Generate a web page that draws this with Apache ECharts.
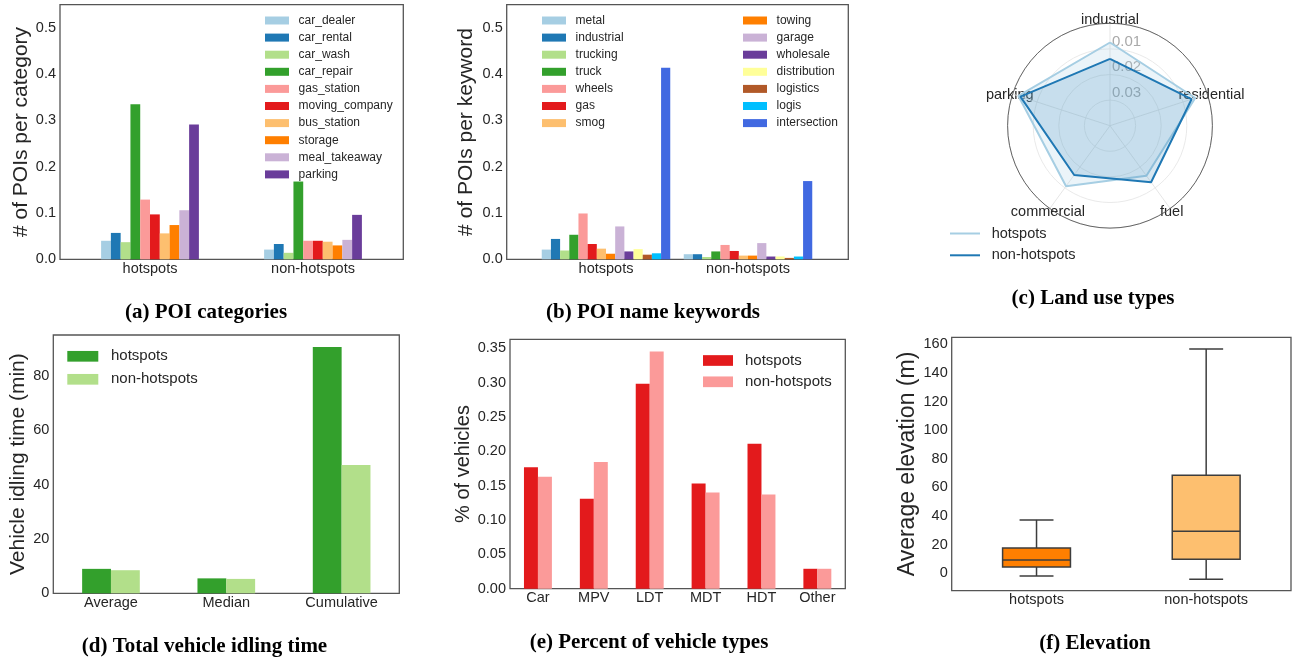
<!DOCTYPE html>
<html><head><meta charset="utf-8">
<script src="https://cdn.jsdelivr.net/npm/echarts@6/dist/echarts.min.js"></script>
<style>html,body{margin:0;padding:0;background:#fff}#c{width:1302px;height:658px}</style>
</head><body><div id="c"></div>
<script>
// ---------------- data ----------------
const groups = ['hotspots', 'non-hotspots'];

const poiCategories = ['car_dealer','car_rental','car_wash','car_repair','gas_station','moving_company','bus_station','storage','meal_takeaway','parking'];
const poiHotspots    = [0.040,0.057,0.037,0.335,0.129,0.097,0.056,0.074,0.106,0.291];
const poiNonHotspots = [0.021,0.033,0.014,0.168,0.040,0.040,0.038,0.030,0.042,0.096];
const poiTicks = [0.0,0.1,0.2,0.3,0.4,0.5];

const keywords = ['metal','industrial','trucking','truck','wheels','gas','smog','towing','garage','wholesale','distribution','logistics','logis','intersection'];
const kwHotspots    = [0.021,0.044,0.019,0.053,0.099,0.033,0.023,0.012,0.071,0.017,0.022,0.010,0.013,0.414];
const kwNonHotspots = [0.011,0.011,0.005,0.017,0.031,0.018,0.008,0.008,0.035,0.006,0.006,0.003,0.006,0.169];
const kwTicks = [0.0,0.1,0.2,0.3,0.4,0.5];

const landUse = ['industrial','residential','fuel','commercial','parking'];
const landHotspots    = [0.0075,0.0050,0.0158,0.0108,0.0024];
const landNonHotspots = [0.0139,0.0065,0.0127,0.0162,0.0032];
const landTicks = [0.01,0.02,0.03];

const idleCats = ['Average','Median','Cumulative'];
const idleHotspots    = [9.0,5.5,90.7];
const idleNonHotspots = [8.5,5.3,47.2];
const idleTicks = [0,20,40,60,80];

const vehicleTypes = ['Car','MPV','LDT','MDT','HDT','Other'];
const vehHotspots    = [0.177,0.131,0.2985,0.153,0.211,0.029];
const vehNonHotspots = [0.163,0.1845,0.3455,0.140,0.137,0.029];
const vehTicks = [0.00,0.05,0.10,0.15,0.20,0.25,0.30,0.35];

// boxplot: [low whisker, Q1, median, Q3, high whisker]
const elevHotspots    = [-1.9,4.4,9.3,17.7,37.3];
const elevNonHotspots = [-4.2,9.8,29.3,68.5,156.7];
const elevTicks = [0,20,40,60,80,100,120,140,160];

// ---------------- styling ----------------
const paired = ['#a6cee3','#1f78b4','#b2df8a','#33a02c','#fb9a99','#e31a1c','#fdbf6f','#ff7f00','#cab2d6','#6a3d9a','#ffff99','#b15928','#00bfff','#4169e1'];
const TXT = '#262626', FRAME = '#555555', SANS = 'Liberation Sans';
const elevColors = ['#ff7f00','#fdbf6f'];

const chart = echarts.init(document.getElementById('c'), null, {renderer:'canvas'});

function frameGrid(l,t,w,h,show){return {left:l,top:t,width:w,height:h,show:show,borderColor:FRAME,borderWidth:1.3,backgroundColor:'transparent'};}
const hiddenAxis = (g)=>({gridIndex:g,type:'value',show:false,min:0,max:1});
const tickLbl = {color:TXT,fontSize:14.5,fontFamily:SANS};
function catX(g,data,extra){return Object.assign({gridIndex:g,type:'category',data:data,axisLine:{show:false},axisTick:{show:false},splitLine:{show:false},axisLabel:Object.assign({margin:2,interval:0},tickLbl)},extra||{});}
function valY(g,min,max,ticks,fmt,name,gap,fs,extra){return Object.assign({gridIndex:g,type:'value',min:min,max:max,axisLine:{show:false},axisTick:{show:false},splitLine:{show:false},
  axisLabel:Object.assign({margin:4,customValues:ticks,formatter:fmt},tickLbl),
  name:name,nameLocation:'middle',nameGap:gap,nameTextStyle:{color:TXT,fontSize:fs,fontFamily:SANS}},extra||{});}

const grids = [
  frameGrid(60,4.7,343.3,254.6,true),      // 0 frame a
  frameGrid(68.5,4.7,326,254.6,false),     // 1 data a
  frameGrid(506.7,4.7,341.6,254.6,true),   // 2 frame b
  frameGrid(535,4.7,284,254.6,false),      // 3 data b
  frameGrid(53.3,335,346,258.3,true),      // 4 d
  frameGrid(510,339.3,335.3,249.4,true),   // 5 e
  frameGrid(951.7,337.3,339.3,253.4,true)  // 6 f
];

const xAxes = [
  hiddenAxis(0),
  catX(1,groups),
  hiddenAxis(2),
  catX(3,groups),
  catX(4,idleCats),
  catX(5,vehicleTypes),
  catX(6,groups)
];
const f1 = v=>v.toFixed(1), f2 = v=>v.toFixed(2), f0 = v=>String(v);
const yAxes = [
  hiddenAxis(0),
  valY(1,0,0.55,poiTicks,f1,'# of POIs per category',27.5,21,{offset:8.5}),
  hiddenAxis(2),
  valY(3,0,0.55,kwTicks,f1,'# of POIs per keyword',29.5,21,{offset:28.3}),
  valY(4,0,95.1,idleTicks,f0,'Vehicle idling time (min)',24.5,21),
  valY(5,0,0.3631,vehTicks,f2,'% of vehicles',36,20),
  valY(6,-12.16,164.9,elevTicks,f0,'Average elevation (m)',33,23)
];

const series = [];
poiCategories.forEach((n,i)=>series.push({type:'bar',name:n,xAxisIndex:1,yAxisIndex:1,data:[poiHotspots[i],poiNonHotspots[i]],
  itemStyle:{color:paired[i]},barGap:'0%',barCategoryGap:'40%'}));
keywords.forEach((n,i)=>series.push({type:'bar',name:n,xAxisIndex:3,yAxisIndex:3,data:[kwHotspots[i],kwNonHotspots[i]],
  itemStyle:{color:paired[i]},barGap:'0%',barCategoryGap:'9.5%'}));

// radar-like polar: angle axis is the index of the land-use type (closed polygon)
const closeRing = arr => arr.map((v,i)=>[v,i]).concat([[arr[0],arr.length]]);
const landRich = {
  n0:{padding:[0,0,-2,0]},
  n1:{padding:[0,0,-8,-27]},
  n2:{padding:[-2,0,0,-9]},
  n3:{padding:[-2,-34,0,0]},
  n4:{padding:[0,-19,-8,0]}
};
Object.keys(landRich).forEach(k=>Object.assign(landRich[k],{color:TXT,fontSize:14.5,fontFamily:SANS}));
series.push({type:'line',name:'land:hotspots',coordinateSystem:'polar',data:closeRing(landHotspots),symbol:'none',
  lineStyle:{color:'#a6cee3',width:2},itemStyle:{color:'#a6cee3'},areaStyle:{color:'#a6cee3',opacity:0.22,origin:'end'},z:3});
series.push({type:'line',name:'land:non-hotspots',coordinateSystem:'polar',data:closeRing(landNonHotspots),symbol:'none',
  lineStyle:{color:'#1f78b4',width:2},itemStyle:{color:'#1f78b4'},areaStyle:{color:'#1f78b4',opacity:0.18,origin:'end'},z:4});

series.push({type:'bar',name:'idle:hotspots',xAxisIndex:4,yAxisIndex:4,data:idleHotspots,itemStyle:{color:'#33a02c'},barGap:'0%',barCategoryGap:'50%'});
series.push({type:'bar',name:'idle:non-hotspots',xAxisIndex:4,yAxisIndex:4,data:idleNonHotspots,itemStyle:{color:'#b2df8a'},barGap:'0%',barCategoryGap:'50%'});
series.push({type:'bar',name:'veh:hotspots',xAxisIndex:5,yAxisIndex:5,data:vehHotspots,itemStyle:{color:'#e31a1c'},barGap:'0%',barCategoryGap:'50%'});
series.push({type:'bar',name:'veh:non-hotspots',xAxisIndex:5,yAxisIndex:5,data:vehNonHotspots,itemStyle:{color:'#fb9a99'},barGap:'0%',barCategoryGap:'50%'});

series.push({type:'custom',name:'elevation',xAxisIndex:6,yAxisIndex:6,
  data:[[0].concat(elevHotspots),[1].concat(elevNonHotspots)],
  encode:{x:0,y:[1,2,3,4,5]},
  renderItem:function(params,api){
    const i=api.value(0);
    const pL=api.coord([i,api.value(1)]),p1=api.coord([i,api.value(2)]),pM=api.coord([i,api.value(3)]),p3=api.coord([i,api.value(4)]),pH=api.coord([i,api.value(5)]);
    const band=api.size([1,0])[0], half=band*0.2, cap=band*0.1, x=pM[0];
    const ls={stroke:'#3d3d3d',lineWidth:1.5};
    return {type:'group',children:[
      {type:'line',shape:{x1:x,y1:pL[1],x2:x,y2:p1[1]},style:ls},
      {type:'line',shape:{x1:x,y1:p3[1],x2:x,y2:pH[1]},style:ls},
      {type:'line',shape:{x1:x-cap,y1:pL[1],x2:x+cap,y2:pL[1]},style:ls},
      {type:'line',shape:{x1:x-cap,y1:pH[1],x2:x+cap,y2:pH[1]},style:ls},
      {type:'rect',shape:{x:x-half,y:p3[1],width:half*2,height:p1[1]-p3[1]},style:{fill:elevColors[params.dataIndex],stroke:'#3d3d3d',lineWidth:1.5}},
      {type:'line',shape:{x1:x-half,y1:pM[1],x2:x+half,y2:pM[1]},style:ls}
    ]};
  }});

const stripPrefix = n=>n.indexOf(':')>=0?n.split(':')[1]:n;
function legend(data,left,top,fs,iw,ih,gap,pad,icon){return {data:data,left:left,top:top,orient:'vertical',itemWidth:iw,itemHeight:ih,itemGap:gap,icon:icon||'rect',
  selectedMode:false,formatter:stripPrefix,textStyle:{color:TXT,fontSize:fs,fontFamily:SANS,padding:[0,0,0,pad]},padding:0};}

const legends = [
  legend(poiCategories,265,14.5,12,24,8,5.1,4.6),
  legend(keywords.slice(0,7),542,14.5,12,24,8,5.1,4.6),
  legend(keywords.slice(7),743,14.5,12,24,8,5.1,4.6),
  legend(['land:hotspots','land:non-hotspots'],950,226,14.5,30,2,6.8,6.7),
  legend(['idle:hotspots','idle:non-hotspots'],67.3,348.8,15,31,10.7,8,7.7),
  legend(['veh:hotspots','veh:non-hotspots'],703,353,15,30,10.7,6.3,7)
];

function ttl(text,cx,cy){return {text:text,left:cx,top:cy-9,textAlign:'center',padding:0,textStyle:{fontFamily:'Liberation Serif',fontWeight:'bold',fontSize:21,color:'#000'}};}
const titles = [
  ttl('(a) POI categories',206,311),
  ttl('(b) POI name keywords',653,311.5),
  ttl('(c) Land use types',1093,297),
  ttl('(d) Total vehicle idling time',204.5,645),
  ttl('(e) Percent of vehicle types',649,641),
  ttl('(f) Elevation',1095,642)
];

chart.setOption({
  animation:false,
  textStyle:{fontFamily:SANS},
  title:titles,
  legend:legends,
  grid:grids,
  xAxis:xAxes,
  yAxis:yAxes,
  polar:{center:[1110,125.7],radius:102.4},
  angleAxis:{type:'value',min:0,max:landUse.length,interval:1,startAngle:90,clockwise:true,
    axisLine:{lineStyle:{color:'#555',width:0.9}},axisTick:{show:false},
    splitLine:{show:true,lineStyle:{color:'#e2e2e2',width:0.9}},
    axisLabel:{margin:-2,color:TXT,fontSize:14.5,fontFamily:SANS,rich:landRich,
      formatter:v=>(v<landUse.length && landUse[v]) ? '{n'+v+'|'+landUse[v]+'}' : ''}},
  radiusAxis:{type:'value',min:0,max:0.04,interval:0.01,inverse:true,
    axisLine:{show:false},axisTick:{show:false},
    splitLine:{show:true,lineStyle:{color:'#e6e6e6',width:0.9}},
    axisLabel:{customValues:landTicks,formatter:f2,color:'#a9a9a9',fontSize:15,fontFamily:SANS,align:'left',verticalAlign:'bottom',margin:-2}},
  series:series
});
</script></body></html>
